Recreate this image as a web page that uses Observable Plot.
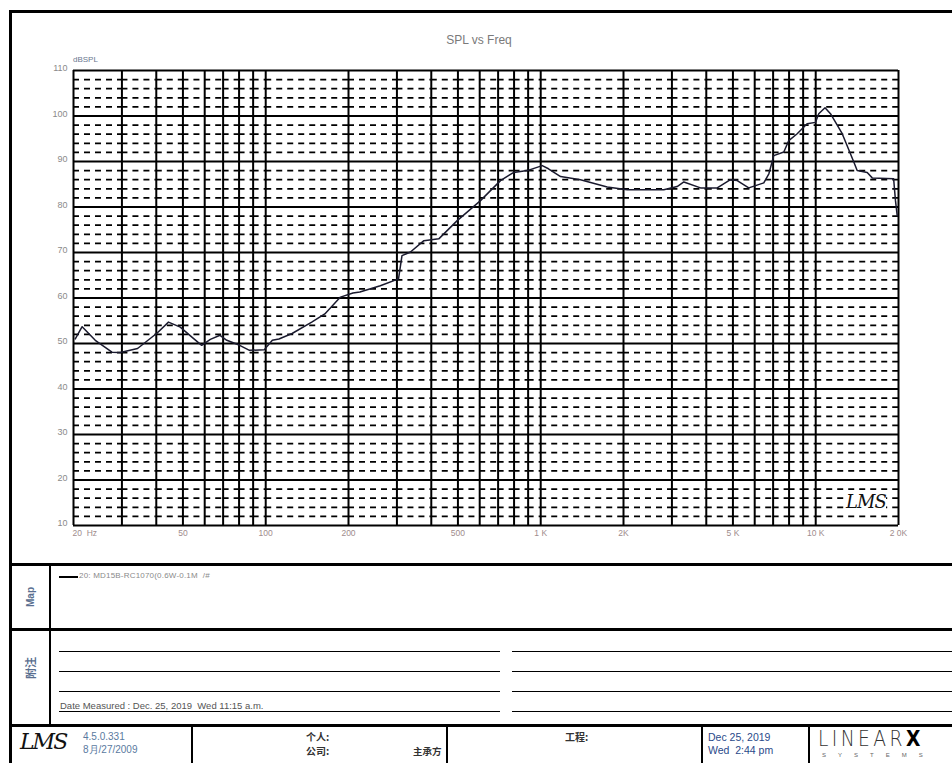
<!DOCTYPE html>
<html>
<head>
<meta charset="utf-8">
<script src="https://cdn.jsdelivr.net/npm/d3@7"></script>
<script src="https://cdn.jsdelivr.net/npm/@observablehq/plot@0.6"></script>
<style>
  html, body { margin:0; padding:0; background:#fff; }
  body { width:952px; height:763px; overflow:hidden; position:relative; font-family:"Liberation Sans", Arial, sans-serif; }
  .abs { position:absolute; }
  #chart { position:absolute; left:0; top:0; }
  .hl { position:absolute; background:#000; }
  .vl { position:absolute; background:#000; }
  .txt { position:absolute; white-space:nowrap; }
  .cjk { font-family:'Noto Sans CJK SC',sans-serif; font-weight:bold; font-size:10px; line-height:12px; color:#333; }
</style>
</head>
<body>
<div id="chart"></div>

<!-- outer frame and table lines -->
<div class="abs" style="left:9px;top:10px;width:1000px;height:900px;border:3px solid #000;box-sizing:border-box;"></div>
<div class="hl" style="left:9px;top:563px;width:1000px;height:3px;"></div>
<div class="hl" style="left:9px;top:628px;width:1000px;height:3px;"></div>
<div class="hl" style="left:9px;top:724px;width:1000px;height:3px;"></div>
<div class="vl" style="left:49px;top:563px;width:2px;height:163px;"></div>

<!-- note lines -->
<div class="hl" style="left:59px;top:651px;width:441px;height:1.4px;"></div>
<div class="hl" style="left:59px;top:671px;width:441px;height:1.4px;"></div>
<div class="hl" style="left:59px;top:691px;width:441px;height:1.4px;"></div>
<div class="hl" style="left:59px;top:711px;width:441px;height:1.4px;"></div>
<div class="hl" style="left:512px;top:651px;width:440px;height:1.4px;"></div>
<div class="hl" style="left:512px;top:671px;width:440px;height:1.4px;"></div>
<div class="hl" style="left:512px;top:691px;width:440px;height:1.4px;"></div>
<div class="hl" style="left:512px;top:711px;width:440px;height:1.4px;"></div>

<!-- bottom row dividers -->
<div class="vl" style="left:191px;top:724px;width:2px;height:40px;"></div>
<div class="vl" style="left:446px;top:724px;width:2px;height:40px;"></div>
<div class="vl" style="left:701px;top:724px;width:2px;height:40px;"></div>
<div class="vl" style="left:808px;top:724px;width:2px;height:40px;"></div>

<!-- titles -->
<div class="txt" style="left:0;width:952px;top:33px;text-align:center;font-size:12px;color:#7a7a7a;padding-left:6px;box-sizing:border-box;">SPL vs Freq</div>
<div class="txt" style="left:73px;top:55px;font-size:8px;color:#6a7890;">dBSPL</div>
<div class="txt" style="left:846px;top:492px;font-size:18px;font-style:italic;font-family:'DejaVu Serif',serif;color:#111;background:#fff;letter-spacing:-1px;line-height:20px;">LMS</div>

<!-- left column labels -->
<div class="txt" style="left:30px;top:597px;transform:translate(-50%,-50%) rotate(-90deg);font-size:10px;font-weight:bold;color:#5a6f90;">Map</div>
<div class="txt" style="left:30px;top:668px;transform:translate(-50%,-50%) rotate(-90deg);font-size:11px;font-weight:bold;color:#5a6f90;font-family:'Noto Sans CJK SC',sans-serif;">附注</div>

<!-- legend -->
<div class="hl" style="left:59px;top:576px;width:19px;height:1.5px;"></div>
<div class="txt" style="left:79px;top:571px;font-size:8px;color:#8a8a8a;letter-spacing:0.2px;">20: MD15B-RC1070(0.6W-0.1M &nbsp;/#</div>

<!-- date measured -->
<div class="txt" style="left:60px;top:700px;font-size:9.5px;color:#555;">Date Measured : Dec. 25, 2019 &nbsp;Wed 11:15 a.m.</div>

<!-- bottom info row -->
<div class="txt" style="left:20px;top:729px;font-size:22px;font-style:italic;font-family:'DejaVu Serif',serif;color:#111;letter-spacing:-2px;">LMS</div>
<div class="txt" style="left:83px;top:731px;font-size:10px;color:#5a7aa0;line-height:12px;">4.5.0.331</div>
<div class="txt" style="left:83px;top:744px;font-size:10px;color:#5a7aa0;line-height:12px;">8月/27/2009</div>
<div class="txt cjk" style="left:306px;top:731px;">个人:</div>
<div class="txt cjk" style="left:306px;top:745px;">公司:</div>
<div class="txt cjk" style="left:413px;top:745px;font-size:9.5px;">主承方</div>
<div class="txt cjk" style="left:565px;top:731px;">工程:</div>
<div class="txt" style="left:708px;top:731px;font-size:10.5px;color:#2a4a8a;line-height:12px;">Dec 25, 2019</div>
<div class="txt" style="left:708px;top:744px;font-size:10.5px;color:#2a4a8a;line-height:12px;">Wed &nbsp;2:44 pm</div>
<div class="txt" style="left:818px;top:726px;font-size:22px;color:#333;font-weight:300;letter-spacing:4px;font-family:'DejaVu Sans',sans-serif;transform:scaleX(0.85);transform-origin:left top;">LINEAR<span style="font-weight:bold;color:#000;">X</span></div>
<div class="txt" style="left:822px;top:752px;font-size:6px;color:#666;letter-spacing:12px;">SYSTEMS</div>

<script>
// Frequency response data (Hz, dB SPL)
const freqHz = [20.3, 21.5, 24, 27.6, 29.6, 34.2, 40.3, 44.3, 48.9, 53.9, 58.5, 62.9, 68.2, 72.2, 80.4, 87.3, 98.7, 105.7, 111.7, 124.7, 147, 164, 187, 207.6, 220, 261, 304, 313, 336, 376, 426, 497, 604, 714, 798, 893, 1013, 1067, 1181, 1395, 1745, 2063, 2803, 3134, 3315, 3811, 4383, 4898, 5183, 5709, 6474, 6755, 7038, 7656, 7981, 8563, 9305, 9977, 10256, 10810, 11315, 12484, 13757, 14150, 15390, 16050, 19200, 19500, 19785];
const splDb = [51, 53.7, 50.7, 48.1, 48, 48.9, 52.3, 54.7, 53.6, 51.4, 49.6, 50.9, 51.8, 50.7, 49.6, 48.5, 48.6, 50.7, 51, 52.2, 54.7, 56.5, 60.2, 61.1, 61.3, 62.7, 64.2, 69.3, 70.1, 72.6, 73, 77, 81.4, 85.8, 87.6, 88, 89.1, 88.4, 86.7, 86, 84.4, 83.8, 83.8, 84.5, 85.5, 84.2, 84.2, 86, 85.8, 84.2, 85.3, 87.3, 91.3, 92.1, 94.6, 96.1, 98.3, 98.6, 100.5, 101.8, 100.5, 96.1, 89.9, 88, 87.6, 86.4, 86.2, 81.4, 78.1];

// Grid and tick definitions
const gridFreqs = [20, 30, 40, 50, 60, 70, 80, 90, 100, 200, 300, 400, 500, 600, 700, 800, 900, 1000, 2000, 3000, 4000, 5000, 6000, 7000, 8000, 9000, 10000, 20000];
const majorDb = [10, 20, 30, 40, 50, 60, 70, 80, 90, 100, 110];
const minorDb = [12, 14, 16, 18, 22, 24, 26, 28, 32, 34, 36, 38, 42, 44, 46, 48, 52, 54, 56, 58, 62, 64, 66, 68, 72, 74, 76, 78, 82, 84, 86, 88, 92, 94, 96, 98, 102, 104, 106, 108];
const xTickValues = [20, 50, 100, 200, 500, 1000, 2000, 5000, 10000, 20000];
const xTickLabels = ["20  Hz", "50", "100", "200", "500", "1 K", "2K", "5 K", "10 K", "2 0K"];
const yTickValues = [10, 20, 30, 40, 50, 60, 70, 80, 90, 100, 110];

const curve = freqHz.map((f, i) => ({f, db: splDb[i]}));
const cells = [];
for (let i = 0; i < gridFreqs.length - 1; i++) {
  for (const y of minorDb) cells.push({x1: gridFreqs[i], x2: gridFreqs[i + 1], y});
}
const xLabels = xTickValues.map((v, i) => ({v, label: xTickLabels[i]}));

const plot = Plot.plot({
  width: 952,
  height: 563,
  marginLeft: 73,
  marginRight: 54,
  marginTop: 70,
  marginBottom: 38,
  style: {fontFamily: "'Liberation Sans', Arial, sans-serif", background: "transparent"},
  x: {type: "log", domain: [20, 20000], axis: null},
  y: {domain: [10, 110], axis: null},
  marks: [
    Plot.ruleY(cells, {y: "y", x1: "x1", x2: "x2", stroke: "#000", strokeWidth: 1.8, strokeDasharray: "6,5"}),
    Plot.ruleY(majorDb, {stroke: "#000", strokeWidth: 2}),
    Plot.ruleX(gridFreqs, {stroke: "#000", strokeWidth: 2}),
    Plot.line(curve, {x: "f", y: "db", stroke: "#1a1a2e", strokeWidth: 1.5}),
    Plot.text(yTickValues, {y: d => d, frameAnchor: "left", textAnchor: "end", dx: -6, dy: -2, text: d => String(d), fill: "#8a8a8a", fontSize: 9}),
    Plot.text(xLabels.slice(0, 1), {x: "v", frameAnchor: "bottom", textAnchor: "start", dx: -1, dy: 10, text: "label", fill: "#a08c8c", fontSize: 8.5}),
    Plot.text(xLabels.slice(1), {x: "v", frameAnchor: "bottom", dy: 10, text: "label", fill: "#a08c8c", fontSize: 8.5})
  ]
});
document.getElementById("chart").appendChild(plot);
</script>
</body>
</html>
